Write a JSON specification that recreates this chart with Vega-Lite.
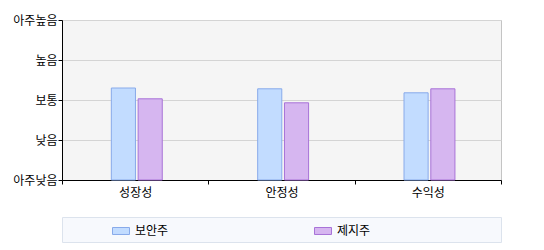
{
  "$schema": "https://vega.github.io/schema/vega-lite/v6.json",
  "width": 439,
  "height": 160,
  "autosize": {"type": "none"},
  "padding": {"left": 62, "top": 20, "right": 43, "bottom": 70},
  "background": "white",
  "data": {
    "values": [
      {"category": "성장성", "stock": "보안주", "score": 2.3},
      {"category": "성장성", "stock": "제지주", "score": 2.03},
      {"category": "안정성", "stock": "보안주", "score": 2.28},
      {"category": "안정성", "stock": "제지주", "score": 1.93},
      {"category": "수익성", "stock": "보안주", "score": 2.18},
      {"category": "수익성", "stock": "제지주", "score": 2.28}
    ]
  },
  "mark": {"type": "bar", "strokeWidth": 1},
  "encoding": {
    "x": {
      "field": "category",
      "type": "nominal",
      "sort": ["성장성", "안정성", "수익성"],
      "scale": {"paddingInner": 0, "paddingOuter": 0},
      "axis": {
        "title": null,
        "labelAngle": 0,
        "domainColor": "#000000",
        "tickColor": "#000000",
        "tickSize": 4,
        "tickBand": "extent",
        "labelPadding": 3,
        "labelColor": "#000000"
      }
    },
    "xOffset": {
      "field": "stock",
      "type": "nominal",
      "sort": ["보안주", "제지주"],
      "scale": {"range": [48, 101.6], "paddingInner": 0.1, "paddingOuter": 0.05}
    },
    "y": {
      "field": "score",
      "type": "quantitative",
      "scale": {"domain": [0, 4], "nice": false},
      "axis": {
        "title": null,
        "values": [0, 1, 2, 3, 4],
        "labelExpr": "['아주낮음','낮음','보통','높음','아주높음'][datum.value]",
        "domainColor": "#000000",
        "tickColor": "#000000",
        "tickSize": 4,
        "labelPadding": 1,
        "gridColor": "#d4d4d4",
        "labelColor": "#000000"
      }
    },
    "fill": {
      "field": "stock",
      "type": "nominal",
      "scale": {"domain": ["보안주", "제지주"], "range": ["#C2DCFF", "#D6B6F0"]},
      "legend": {"title": null, "labelLimit": 0, "labelExpr": "datum.label == '제지주' ? datum.label + '\u3000\u3000\u3000\u3000\u3000\u3000\u3000\u3000\u3000\u3000\u00a0\u00a0\u200b' : datum.label"}
    },
    "stroke": {
      "field": "stock",
      "type": "nominal",
      "scale": {"domain": ["보안주", "제지주"], "range": ["#88AAEA", "#A873D8"]},
      "legend": {"title": null, "labelLimit": 0, "labelExpr": "datum.label == '제지주' ? datum.label + '\u3000\u3000\u3000\u3000\u3000\u3000\u3000\u3000\u3000\u3000\u00a0\u00a0\u200b' : datum.label"}
    }
  },
  "config": {
    "font": "Noto Sans CJK KR",
    "view": {"fill": "#f5f5f5", "stroke": "#c4c4c4"},
    "axis": {"labelFont": "Noto Sans CJK KR", "labelFontSize": 12},
    "legend": {
      "orient": "none",
      "legendX": 0,
      "legendY": 197,
      "direction": "horizontal",
      "padding": 5,
      "fillColor": "#f7f9fd",
      "strokeColor": "#dce3ed",
      "symbolType": "M-1,-0.41L1,-0.41L1,0.41L-1,0.41Z",
      "symbolSize": 289,
      "symbolStrokeWidth": 1,
      "symbolOffset": 45,
      "labelOffset": 5,
      "columnPadding": 100,
      "labelFont": "Noto Sans CJK KR",
      "labelFontSize": 12,
      "labelColor": "#000000"
    }
  }
}
